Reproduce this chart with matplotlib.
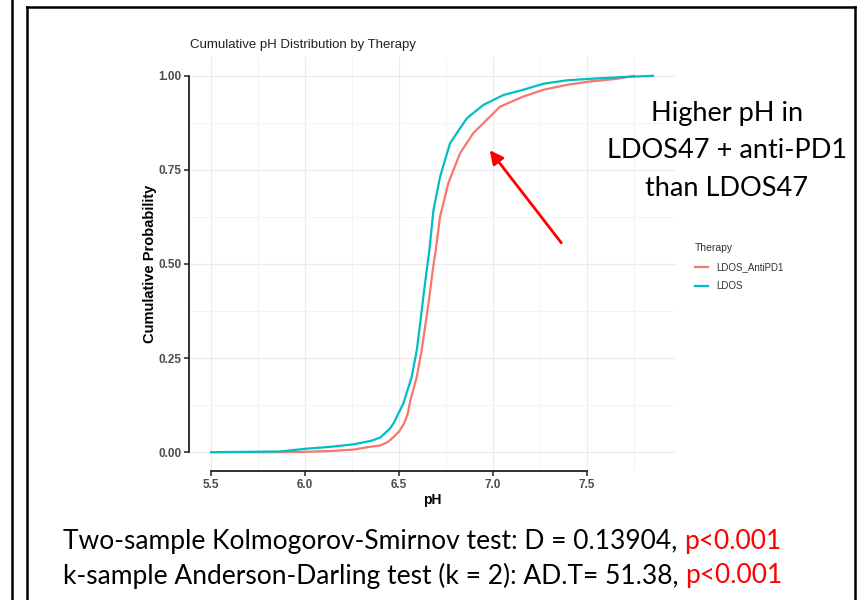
import matplotlib
matplotlib.use("Agg")
import matplotlib.pyplot as plt
from matplotlib.lines import Line2D
from matplotlib.patches import FancyArrowPatch

# ---------------- data ----------------
ldos_ph = [5.50, 5.70, 5.87, 6.00, 6.13, 6.26, 6.35, 6.40, 6.45, 6.47, 6.523,
           6.567, 6.594, 6.612, 6.629, 6.647, 6.661, 6.683, 6.718, 6.771,
           6.860, 6.949, 7.055, 7.161, 7.268, 7.392, 7.516, 7.658, 7.85]
ldos_p = [0.000, 0.001, 0.002, 0.009, 0.014, 0.021, 0.030, 0.039, 0.062, 0.076, 0.130,
          0.200, 0.271, 0.342, 0.413, 0.484, 0.537, 0.644, 0.732, 0.821,
          0.887, 0.923, 0.949, 0.963, 0.979, 0.988, 0.992, 0.996, 1.000]

anti_ph = [5.50, 5.87, 6.00, 6.13, 6.26, 6.34, 6.40, 6.44, 6.47, 6.50, 6.525,
           6.545, 6.560, 6.594, 6.620, 6.641, 6.661, 6.679, 6.695, 6.718,
           6.762, 6.824, 6.895, 6.984, 7.037, 7.161, 7.268, 7.392, 7.516,
           7.658, 7.75]
anti_p = [0.000, 0.000, 0.001, 0.003, 0.007, 0.014, 0.018, 0.027, 0.040, 0.055, 0.075,
          0.100, 0.138, 0.200, 0.271, 0.342, 0.413, 0.484, 0.537, 0.626,
          0.715, 0.794, 0.848, 0.892, 0.918, 0.945, 0.963, 0.976, 0.985,
          0.992, 1.000]

series_names = ["LDOS_AntiPD1", "LDOS"]
series_colors = ["#F8766D", "#00BFC4"]
x_ticks = [5.5, 6.0, 6.5, 7.0, 7.5]
x_tick_labels = ["5.5", "6.0", "6.5", "7.0", "7.5"]
y_ticks = [0.0, 0.25, 0.5, 0.75, 1.0]
y_tick_labels = ["0.00", "0.25", "0.50", "0.75", "1.00"]

W, H = 859, 600
fig = plt.figure(figsize=(W / 100, H / 100), dpi=100)
fig.patch.set_facecolor("white")

def fx(px):
    return px / W

def fy(py):
    return 1 - py / H

ax = fig.add_axes([fx(189), fy(471), (675 - 189) / W, (471 - 57) / H])

ax.plot(anti_ph, anti_p, color=series_colors[0], lw=1.6, label=series_names[0], zorder=3)
ax.plot(ldos_ph, ldos_p, color=series_colors[1], lw=1.6, label=series_names[1], zorder=3)

# grid
ax.set_xticks(x_ticks)
ax.set_xticklabels(x_tick_labels)
ax.set_yticks(y_ticks)
ax.set_yticklabels(y_tick_labels)
ax.set_xticks([5.75, 6.25, 6.75, 7.25, 7.75], minor=True)
ax.set_yticks([0.125, 0.375, 0.625, 0.875], minor=True)
ax.set_xlim(5.3825, 7.9675)
ax.set_ylim(-0.05, 1.05)
ax.grid(which="major", color="#EBEBEB", lw=0.8, zorder=0)
ax.grid(which="minor", color="#F2F2F2", lw=0.6, zorder=0)
ax.tick_params(which="minor", length=0)
ax.set_axisbelow(True)

for s in ["top", "right"]:
    ax.spines[s].set_visible(False)
ax.spines["left"].set_bounds(0, 1)
ax.spines["bottom"].set_bounds(5.5, 7.5)
for s in ["left", "bottom"]:
    ax.spines[s].set_color("#222222")
    ax.spines[s].set_linewidth(1.3)
ax.tick_params(which="major", length=3.5, width=1.1, color="#222222",
               labelsize=8.5, labelcolor="#4D4D4D", pad=2)
for lab in ax.get_xticklabels() + ax.get_yticklabels():
    lab.set_fontweight("bold")
    lab.set_family("Liberation Sans")

ax.set_xlabel("pH", fontsize=10, fontweight="bold", family="Liberation Sans", labelpad=2)
ax.set_ylabel("Cumulative Probability", fontsize=10.5, fontweight="bold",
              family="Liberation Sans", labelpad=1)

fig.text(fx(190), fy(45), "Cumulative pH Distribution by Therapy", fontsize=9.5,
         family="Liberation Sans", color="#222222", ha="left", va="center")

# legend
leg = fig.legend(handles=[Line2D([], [], color=series_colors[0], lw=1.6),
                          Line2D([], [], color=series_colors[1], lw=1.6)],
                 labels=series_names, title="Therapy", loc="upper left",
                 bbox_to_anchor=(fx(686), fy(234)), frameon=False,
                 prop={"family": "Liberation Sans", "size": 7},
                 title_fontproperties={"family": "Liberation Sans", "size": 7.5},
                 handlelength=1.4, handletextpad=0.8, labelspacing=0.95)
leg._legend_box.align = "left"
leg.get_title().set_color("#333333")
for t in leg.get_texts():
    t.set_color("#333333")

# annotation text
for i, line in enumerate(["Higher pH in", "LDOS47 + anti-PD1", "than LDOS47"]):
    fig.text(fx(727), fy(113 + i * 37.5), line, fontsize=19.5, family="Lato",
             ha="center", va="center", color="black")

arrow = FancyArrowPatch((fx(563), fy(245)), (fx(488), fy(148)),
                        transform=fig.transFigure, arrowstyle="-|>",
                        mutation_scale=20, color="red", lw=2)
fig.patches.append(arrow)

# bottom statistics text
y1, y2 = fy(541), fy(576)
t1 = fig.text(fx(63), y1, "Two-sample Kolmogorov-Smirnov test: D = 0.13904, ",
              fontsize=19, family="Lato", ha="left", va="center")
t2 = fig.text(fx(63), y2, "k-sample Anderson-Darling test (k = 2): AD.T= 51.38, ",
              fontsize=19, family="Lato", ha="left", va="center")
fig.canvas.draw()
r = fig.canvas.get_renderer()
for t, yy in [(t1, y1), (t2, y2)]:
    bb = t.get_window_extent(r)
    fig.text(bb.x1 / W, yy, "p<0.001", fontsize=19, family="Lato",
             ha="left", va="center", color="red")

# frame lines
for xs, ys in [([12, 12], [0, 600]), ([27, 27], [7, 600]),
               ([27, 855], [7, 7]), ([855, 855], [7, 600])]:
    fig.add_artist(Line2D([fx(v) for v in xs], [fy(v) for v in ys],
                          color="black", lw=1.8, transform=fig.transFigure))

fig.savefig("out.png", dpi=100, facecolor="white")
